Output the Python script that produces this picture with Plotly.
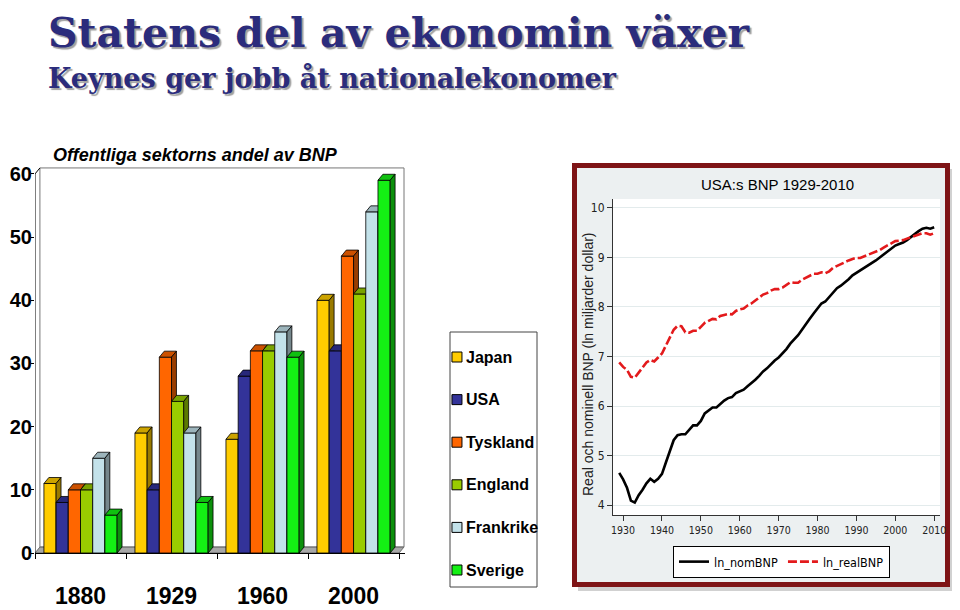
import plotly.graph_objects as go

# ---------------- data: bar chart ----------------
bar_years = ["1880", "1929", "1960", "2000"]
countries = ["Japan", "USA", "Tyskland", "England", "Frankrike", "Sverige"]
japan = [11, 19, 18, 40]
usa = [8, 10, 28, 32]
tyskland = [10, 31, 32, 47]
england = [10, 24, 32, 41]
frankrike = [15, 19, 35, 54]
sverige = [6, 8, 31, 59]
bar_ticks = [0, 10, 20, 30, 40, 50, 60]

# ---------------- data: USA GDP ----------------
gdp_years = list(range(1929, 2011))
ln_nomBNP = [4.65, 4.52, 4.35, 4.09, 4.05, 4.20, 4.31, 4.44, 4.53, 4.47,
             4.53, 4.63, 4.86, 5.11, 5.31, 5.41, 5.43, 5.43, 5.52, 5.61,
             5.61, 5.70, 5.85, 5.91, 5.97, 5.97, 6.05, 6.11, 6.16, 6.18,
             6.26, 6.29, 6.33, 6.40, 6.46, 6.53, 6.61, 6.70, 6.76, 6.85,
             6.92, 6.98, 7.06, 7.15, 7.26, 7.34, 7.43, 7.54, 7.64, 7.76,
             7.87, 7.96, 8.07, 8.11, 8.20, 8.30, 8.38, 8.43, 8.49, 8.56,
             8.64, 8.69, 8.73, 8.78, 8.83, 8.89, 8.94, 9.00, 9.06, 9.11,
             9.17, 9.24, 9.27, 9.30, 9.35, 9.41, 9.48, 9.53, 9.58, 9.60,
             9.58, 9.61]
ln_realBNP = [6.88, 6.79, 6.73, 6.59, 6.57, 6.68, 6.78, 6.88, 6.93, 6.90,
              6.98, 7.06, 7.22, 7.39, 7.54, 7.62, 7.61, 7.49, 7.48, 7.52,
              7.52, 7.60, 7.68, 7.72, 7.76, 7.75, 7.82, 7.84, 7.86, 7.85,
              7.92, 7.95, 7.97, 8.03, 8.07, 8.13, 8.19, 8.25, 8.28, 8.33,
              8.36, 8.36, 8.39, 8.44, 8.50, 8.49, 8.49, 8.55, 8.59, 8.64,
              8.67, 8.67, 8.70, 8.68, 8.72, 8.79, 8.83, 8.87, 8.90, 8.94,
              8.97, 8.99, 8.99, 9.02, 9.05, 9.09, 9.12, 9.15, 9.20, 9.24,
              9.29, 9.33, 9.34, 9.35, 9.38, 9.41, 9.44, 9.47, 9.49, 9.49,
              9.46, 9.49]
gdp_yticks = [4, 5, 6, 7, 8, 9, 10]
gdp_xticks = [1930, 1940, 1950, 1960, 1970, 1980, 1990, 2000, 2010]

# ---------------- styling ----------------
# the page body has an 8px margin: size the figure so it fills the window exactly
OFF = 8
W, H = 960 - OFF, 610 - OFF
SANS = "Liberation Sans, Arial, sans-serif"
NARROW = "DejaVu Sans Condensed, Liberation Sans Narrow, Liberation Sans, sans-serif"
SERIF = "DejaVu Serif, Liberation Serif, serif"
NAVY = "#2B2C7C"

colors = ["#FFCC00", "#333399", "#FF6600", "#99CC00", "#C3E2EA", "#14F014"]
series = [japan, usa, tyskland, england, frankrike, sverige]


def shade(hexcol, f):
    h = hexcol.lstrip("#")
    r, g, b = (int(h[i:i + 2], 16) for i in (0, 2, 4))
    return "rgb(%d,%d,%d)" % (r * f, g * f, b * f)


def px(x):
    # window pixel -> paper fraction
    return (x - OFF) / W


def py(y):
    return 1 - (y - OFF) / H


# 3-D geometry (in axis units)
bw = 0.134
start = -0.402
ddx = 0.054
ddy = 0.95

fig = go.Figure()

for j, (name, vals, col) in enumerate(zip(countries, series, colors)):
    fx, fy, tx, ty, sx, sy = [], [], [], [], [], []
    for g, v in enumerate(vals):
        x0 = g + start + j * bw
        x1 = x0 + bw
        fx += [x0, x1, x1, x0, x0, None]
        fy += [0, 0, v, v, 0, None]
        tx += [x0, x1, x1 + ddx, x0 + ddx, x0, None]
        ty += [v, v, v + ddy, v + ddy, v, None]
        sx += [x1, x1 + ddx, x1 + ddx, x1, x1, None]
        sy += [0, ddy, v + ddy, v, 0, None]
    for xs, ys, fc in ((fx, fy, col), (tx, ty, shade(col, 0.8)), (sx, sy, shade(col, 0.6))):
        fig.add_trace(go.Scatter(
            x=xs, y=ys, mode="lines", fill="toself", fillcolor=fc,
            line=dict(color="black", width=0.8), showlegend=False,
            name=name, hoverinfo="skip", xaxis="x", yaxis="y"))

# legend keys of the bar chart (own small axis inside the legend box)
fig.add_trace(go.Scatter(
    x=[0.08] * len(countries), y=list(range(len(countries))), mode="markers",
    marker=dict(symbol="square", size=10, color=colors, line=dict(color="black", width=1)),
    showlegend=False, hoverinfo="skip", xaxis="x3", yaxis="y3"))

# line chart
fig.add_trace(go.Scatter(
    x=gdp_years, y=ln_nomBNP, mode="lines", name="ln_nomBNP",
    line=dict(color="black", width=2.6), xaxis="x2", yaxis="y2"))
fig.add_trace(go.Scatter(
    x=gdp_years, y=ln_realBNP, mode="lines", name="ln_realBNP",
    line=dict(color="#E31A1C", width=2.6, dash="9px,3px"), xaxis="x2", yaxis="y2"))

# ---------------- shapes ----------------
shapes = []
shapes.append(dict(type="rect", xref="paper", yref="paper",
                   x0=px(578), x1=px(954), y0=py(591), y1=py(169),
                   fillcolor="rgba(0,0,0,0.18)", line=dict(width=0), layer="below"))
shapes.append(dict(type="rect", xref="paper", yref="paper",
                   x0=px(574.5), x1=px(947.5), y0=py(584.5), y1=py(165.5),
                   fillcolor="#ECF0F1", line=dict(color="#7E1416", width=5), layer="below"))
shapes.append(dict(type="rect", xref="paper", yref="paper",
                   x0=px(613), x1=px(940), y0=py(515), y1=py(199),
                   fillcolor="white", line=dict(width=0), layer="below"))
# legend box of the bar chart
shapes.append(dict(type="rect", xref="paper", yref="paper",
                   x0=px(450), x1=px(537), y0=py(587), y1=py(332),
                   fillcolor="white", line=dict(color="#444444", width=1), layer="below"))
# 3-D floor and back wall of the bar chart
shapes.append(dict(type="path", xref="x", yref="y",
                   path="M -0.5,0 L 3.5,0 L %f,%f L %f,%f Z" % (3.5 + ddx, ddy, -0.5 + ddx, ddy),
                   fillcolor="#A8A8A8", line=dict(color="#555555", width=0.8), layer="below"))
shapes.append(dict(type="rect", xref="x", yref="y",
                   x0=-0.5 + ddx, x1=3.5 + ddx, y0=ddy, y1=60 + ddy,
                   line=dict(color="#777777", width=1), layer="below"))
shapes.append(dict(type="path", xref="x", yref="y",
                   path="M -0.5,0 L -0.5,60 L %f,%f" % (-0.5 + ddx, 60 + ddy),
                   line=dict(color="black", width=1), layer="below"))

# ---------------- annotations ----------------
ann = []
ann.append(dict(text="<b>Statens del av ekonomin växer</b>", x=px(46), y=py(33),
                xref="paper", yref="paper", xanchor="left", yanchor="middle", align="left",
                showarrow=False,
                font=dict(family=SERIF, size=41, color=NAVY, shadow="2px 2px 1px #A0A0A0")))
ann.append(dict(text="<b>Keynes ger jobb åt nationalekonomer</b>", x=px(46), y=py(78),
                xref="paper", yref="paper", xanchor="left", yanchor="middle", align="left",
                showarrow=False,
                font=dict(family=SERIF, size=27, color=NAVY, shadow="2px 2px 1px #A0A0A0")))
ann.append(dict(text="<b><i>Offentliga sektorns andel av BNP</i></b>", x=px(51), y=py(155),
                xref="paper", yref="paper", xanchor="left", yanchor="middle", align="left",
                showarrow=False, font=dict(family=SANS, size=18, color="black")))
for j, name in enumerate(countries):
    ann.append(dict(text="<b>%s</b>" % name, x=0.165, y=j, xref="x3", yref="y3",
                    xanchor="left", yanchor="middle", align="left", showarrow=False,
                    font=dict(family=SANS, size=16, color="black")))
ann.append(dict(text="USA:s BNP 1929-2010", x=px(777), y=py(184),
                xref="paper", yref="paper", xanchor="center", yanchor="middle",
                showarrow=False, font=dict(family=SANS, size=15, color="black")))
ann.append(dict(text="Real och nominell BNP (ln miljarder dollar)", x=px(588), y=py(364),
                xref="paper", yref="paper", xanchor="center", yanchor="middle",
                textangle=-90, showarrow=False,
                font=dict(family=SANS, size=14, color="#222222")))

fig.update_layout(
    template="none",
    width=W, height=H, margin=dict(l=0, r=0, t=0, b=0, autoexpand=False),
    paper_bgcolor="white", plot_bgcolor="rgba(0,0,0,0)",
    shapes=shapes, annotations=ann,
    xaxis=dict(domain=[px(35), px(405)], range=[-0.5, 3.565], automargin=False,
               tickvals=[0, 1, 2, 3], ticktext=bar_years, ticks="",
               showline=True, linecolor="black", linewidth=1,
               minor=dict(tickvals=[-0.5, 0.5, 1.5, 2.5, 3.5], ticks="outside",
                          ticklen=5, tickcolor="black", showgrid=False),
               tickfont=dict(family=SANS, size=23, color="black", weight="bold"),
               ticklabelstandoff=22, showgrid=False, zeroline=False, fixedrange=True),
    yaxis=dict(domain=[py(553), py(167)], range=[0, 61.1], automargin=False,
               tickvals=bar_ticks, ticks="outside", ticklen=3, tickcolor="black",
               showline=False, showgrid=False, zeroline=False,
               ticklabelstandoff=-5,
               tickfont=dict(family=SANS, size=20, color="black", weight="bold"),
               fixedrange=True),
    xaxis2=dict(domain=[px(613), px(940)], range=[1927.4, 2011.5], anchor="y2",
                automargin=False,
                tickvals=gdp_xticks, ticks="outside", ticklen=5, tickcolor="#333",
                showline=True, linecolor="#333", linewidth=1, showgrid=False, zeroline=False,
                tickfont=dict(family=NARROW, size=10.5, color="#222")),
    yaxis2=dict(domain=[py(515), py(199)], range=[3.8, 10.18], anchor="x2",
                automargin=False,
                tickvals=gdp_yticks, ticks="outside", ticklen=5, tickcolor="#333",
                showline=True, linecolor="#333", linewidth=1,
                showgrid=True, gridcolor="#E3EBEC", gridwidth=1, zeroline=False,
                tickfont=dict(family=NARROW, size=12, color="#222")),
    xaxis3=dict(domain=[px(450), px(537)], range=[0, 1], visible=False, anchor="y3",
                automargin=False, fixedrange=True),
    yaxis3=dict(domain=[py(587), py(332)], range=[5.399, -0.587], visible=False, anchor="x3",
                automargin=False, fixedrange=True),
    legend=dict(x=px(673), y=py(546), xanchor="left", yanchor="top",
                orientation="h", bgcolor="white", bordercolor="black", borderwidth=1,
                font=dict(family=NARROW, size=12.5, color="black")),
    showlegend=True,
)

fig.write_html("out.html")
